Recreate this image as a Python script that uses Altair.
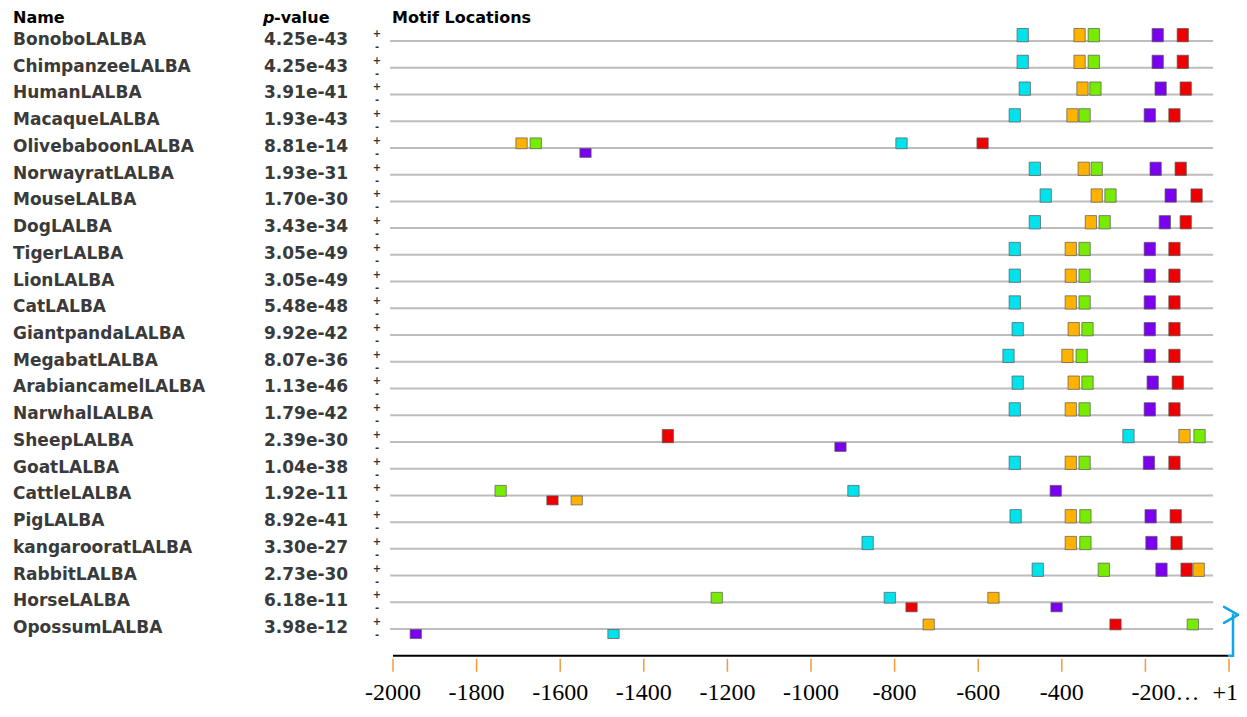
import altair as alt
import pandas as pd

# ---------------- data ----------------
names = ["BonoboLALBA", "ChimpanzeeLALBA", "HumanLALBA", "MacaqueLALBA",
         "OlivebaboonLALBA", "NorwayratLALBA", "MouseLALBA", "DogLALBA",
         "TigerLALBA", "LionLALBA", "CatLALBA", "GiantpandaLALBA",
         "MegabatLALBA", "ArabiancamelLALBA", "NarwhalLALBA", "SheepLALBA",
         "GoatLALBA", "CattleLALBA", "PigLALBA", "kangarooratLALBA",
         "RabbitLALBA", "HorseLALBA", "OpossumLALBA"]
pvalues = ["4.25e-43", "4.25e-43", "3.91e-41", "1.93e-43", "8.81e-14",
           "1.93e-31", "1.70e-30", "3.43e-34", "3.05e-49", "3.05e-49",
           "5.48e-48", "9.92e-42", "8.07e-36", "1.13e-46", "1.79e-42",
           "2.39e-30", "1.04e-38", "1.92e-11", "8.92e-41", "3.30e-27",
           "2.73e-30", "6.18e-11", "3.98e-12"]

motif_ids = [1, 2, 3, 4, 5]
motif_colors = ["#00E3EC", "#FFB300", "#78EC00", "#7A00EE", "#EE0000"]
MOTIF_WIDTH = 27          # bp
SEQ_START, SEQ_END = -2007, -38

# (motif, start position, strand)
sites = {
    "BonoboLALBA":       [(1, -507, "+"), (2, -371, "+"), (3, -337, "+"), (4, -184, "+"), (5, -124, "+")],
    "ChimpanzeeLALBA":   [(1, -507, "+"), (2, -371, "+"), (3, -337, "+"), (4, -184, "+"), (5, -124, "+")],
    "HumanLALBA":        [(1, -502, "+"), (2, -364, "+"), (3, -333, "+"), (4, -177, "+"), (5, -117, "+")],
    "MacaqueLALBA":      [(1, -526, "+"), (2, -388, "+"), (3, -359, "+"), (4, -203, "+"), (5, -144, "+")],
    "OlivebaboonLALBA":  [(2, -1706, "+"), (3, -1672, "+"), (4, -1553, "-"), (1, -797, "+"), (5, -603, "+")],
    "NorwayratLALBA":    [(1, -478, "+"), (2, -361, "+"), (3, -330, "+"), (4, -189, "+"), (5, -129, "+")],
    "MouseLALBA":        [(1, -452, "+"), (2, -330, "+"), (3, -297, "+"), (4, -153, "+"), (5, -91, "+")],
    "DogLALBA":          [(1, -478, "+"), (2, -344, "+"), (3, -311, "+"), (4, -167, "+"), (5, -117, "+")],
    "TigerLALBA":        [(1, -526, "+"), (2, -392, "+"), (3, -359, "+"), (4, -203, "+"), (5, -144, "+")],
    "LionLALBA":         [(1, -526, "+"), (2, -392, "+"), (3, -359, "+"), (4, -203, "+"), (5, -144, "+")],
    "CatLALBA":          [(1, -526, "+"), (2, -392, "+"), (3, -359, "+"), (4, -203, "+"), (5, -144, "+")],
    "GiantpandaLALBA":   [(1, -519, "+"), (2, -385, "+"), (3, -352, "+"), (4, -203, "+"), (5, -144, "+")],
    "MegabatLALBA":      [(1, -541, "+"), (2, -400, "+"), (3, -366, "+"), (4, -203, "+"), (5, -144, "+")],
    "ArabiancamelLALBA": [(1, -519, "+"), (2, -385, "+"), (3, -352, "+"), (4, -196, "+"), (5, -136, "+")],
    "NarwhalLALBA":      [(1, -526, "+"), (2, -392, "+"), (3, -359, "+"), (4, -203, "+"), (5, -144, "+")],
    "SheepLALBA":        [(5, -1356, "+"), (4, -943, "-"), (1, -254, "+"), (2, -120, "+"), (3, -84, "+")],
    "GoatLALBA":         [(1, -526, "+"), (2, -392, "+"), (3, -359, "+"), (4, -205, "+"), (5, -144, "+")],
    "CattleLALBA":       [(3, -1756, "+"), (5, -1632, "-"), (2, -1574, "-"), (1, -912, "+"), (4, -428, "+")],
    "PigLALBA":          [(1, -524, "+"), (2, -392, "+"), (3, -357, "+"), (4, -201, "+"), (5, -141, "+")],
    "kangarooratLALBA":  [(1, -878, "+"), (2, -392, "+"), (3, -357, "+"), (4, -199, "+"), (5, -139, "+")],
    "RabbitLALBA":       [(1, -471, "+"), (3, -313, "+"), (4, -175, "+"), (5, -115, "+"), (2, -86, "+")],
    "HorseLALBA":        [(3, -1239, "+"), (1, -825, "+"), (5, -773, "-"), (2, -577, "+"), (4, -426, "-")],
    "OpossumLALBA":      [(4, -1959, "-"), (1, -1486, "-"), (2, -732, "+"), (5, -285, "+"), (3, -100, "+")],
}

tick_values = [-2000, -1800, -1600, -1400, -1200, -1000, -800, -600, -400, -200, 0]
tick_labels = ["-2000", "-1800", "-1600", "-1400", "-1200", "-1000", "-800",
               "-600", "-400", "-200\u2026", "+1"]
TSS = 0

# ---------------- layout ----------------
W, H = 1231, 697
X0_PX = 385.0         # chart x of -2000
PX_PER_BP = 0.418
ROW0_PX = 33.0        # chart y of first sequence line
ROW_STEP = 26.73
AXIS_ROW = len(names)

xs = alt.Scale(domain=[-2000 - X0_PX / PX_PER_BP, -2000 + (W - X0_PX) / PX_PER_BP],
               nice=False, zero=False)
ys = alt.Scale(domain=[-ROW0_PX / ROW_STEP, (H - ROW0_PX) / ROW_STEP],
               nice=False, zero=False, reverse=True)

def px_row(p):
    return p / ROW_STEP

def px_bp(p):
    return p / PX_PER_BP

seq_df = pd.DataFrame({
    "row": list(range(len(names))),
    "name": names,
    "pvalue": pvalues,
    "x0": SEQ_START,
    "x1": SEQ_END,
})

rows = []
for i, n in enumerate(names):
    weak = float(pvalues[i]) > 1e-20
    hp = 10.0 if weak else 12.5
    for m, s, strand in sites[n]:
        if strand == "+":
            yt, yb = i - px_row(hp), i + px_row(0.8)
        else:
            yt, yb = i + px_row(0.5), i + px_row(9.5)
        rows.append({"row": i, "motif": m, "start": s, "end": s + MOTIF_WIDTH,
                     "ytop": yt, "ybot": yb})
site_df = pd.DataFrame(rows)

FONT = "DejaVu Sans"

lines = alt.Chart(seq_df).mark_rule(color="#bdbdbd", strokeWidth=2).encode(
    x=alt.X("x0:Q", scale=xs, axis=None), x2="x1:Q",
    y=alt.Y("row:Q", scale=ys, axis=None))

boxes = alt.Chart(site_df).mark_rect(stroke="#5a5a5a", strokeWidth=0.9, strokeOpacity=0.8).encode(
    x=alt.X("start:Q", scale=xs, axis=None), x2="end:Q",
    y=alt.Y("ytop:Q", scale=ys, axis=None), y2="ybot:Q",
    color=alt.Color("motif:N", scale=alt.Scale(domain=motif_ids, range=motif_colors), legend=None))

name_txt = alt.Chart(seq_df).mark_text(align="left", baseline="alphabetic", dy=4,
                                       font=FONT, fontSize=17, fontWeight="bold",
                                       color="#3a3a3a").encode(
    x=alt.value(5), y=alt.Y("row:Q", scale=ys, axis=None), text="name:N")

p_txt = alt.Chart(seq_df).mark_text(align="left", baseline="alphabetic", dy=4,
                                    font=FONT, fontSize=17, fontWeight="bold",
                                    color="#3a3a3a").encode(
    x=alt.value(256), y=alt.Y("row:Q", scale=ys, axis=None), text="pvalue:N")

# strand markers: "+" above the line, "-" below
plus_txt = alt.Chart(seq_df).mark_text(align="center", baseline="middle", dy=-7, text="+",
                                       font=FONT, fontSize=10, fontWeight="bold", color="#333").encode(
    x=alt.value(369), y=alt.Y("row:Q", scale=ys, axis=None))
minus_txt = alt.Chart(seq_df).mark_text(align="center", baseline="middle", dy=6, text="-",
                                        font=FONT, fontSize=10, fontWeight="bold", color="#333").encode(
    x=alt.value(369), y=alt.Y("row:Q", scale=ys, axis=None))

HDR_Y = 15
hdr_df = pd.DataFrame({"t": ["Name", "-value", "Motif Locations"], "x": [5, 266, 384]})
hdr = alt.Chart(hdr_df).mark_text(align="left", baseline="alphabetic", font=FONT,
                                  fontSize=16, fontWeight="bold", color="#000").encode(
    x=alt.X("x:Q", scale=None), y=alt.value(HDR_Y), text="t:N")
hdr_p = alt.Chart(pd.DataFrame({"t": ["p"]})).mark_text(
    align="left", baseline="alphabetic", font=FONT, fontSize=16, fontWeight="bold",
    fontStyle="italic", color="#000").encode(x=alt.value(255), y=alt.value(HDR_Y), text="t:N")

axis_df = pd.DataFrame({"x0": [tick_values[0]], "x1": [tick_values[-1]], "y": [AXIS_ROW]})
axis_line = alt.Chart(axis_df).mark_rule(color="black", strokeWidth=2).encode(
    x=alt.X("x0:Q", scale=xs, axis=None), x2="x1:Q", y=alt.Y("y:Q", scale=ys, axis=None))

tick_df = pd.DataFrame({"v": tick_values, "label": tick_labels,
                        "y0": AXIS_ROW + px_row(3), "y1": AXIS_ROW + px_row(16),
                        "yl": AXIS_ROW})
ticks = alt.Chart(tick_df).mark_rule(color="#F49A3A", strokeWidth=1.5).encode(
    x=alt.X("v:Q", scale=xs, axis=None), y=alt.Y("y0:Q", scale=ys, axis=None), y2="y1:Q")

LAB_DY = 44
LAB_FONT = dict(baseline="alphabetic", dy=LAB_DY, font="Liberation Serif",
                fontSize=24, color="black")
lab_enc = dict(x=alt.X("v:Q", scale=xs, axis=None),
               y=alt.Y("yl:Q", scale=ys, axis=None), text="label:N")
lab_main = alt.Chart(tick_df).transform_filter(
    "indexof(datum.label, '\u2026') < 0 && indexof(datum.label, '+') < 0"
).mark_text(align="center", **LAB_FONT).encode(**lab_enc)
lab_ell = alt.Chart(tick_df).transform_filter(
    "indexof(datum.label, '\u2026') >= 0"
).mark_text(align="left", dx=-14, **LAB_FONT).encode(**lab_enc)
lab_end = alt.Chart(tick_df).transform_filter(
    "indexof(datum.label, '+') >= 0"
).mark_text(align="right", dx=9, **LAB_FONT).encode(**lab_enc)

# promoter arrow at the TSS
xv = TSS + px_bp(4)
ytop = AXIS_ROW - px_row(41)
arrow_df = pd.DataFrame({
    "x0": [TSS, xv, TSS - px_bp(5), TSS + px_bp(9)],
    "x1": [xv, xv, TSS + px_bp(9), TSS - px_bp(5)],
    "y0": [AXIS_ROW, AXIS_ROW, ytop - px_row(8), ytop],
    "y1": [AXIS_ROW, ytop, ytop, ytop + px_row(8)],
})
arrow = alt.Chart(arrow_df).mark_rule(color="#12A6E8", strokeWidth=2.5, strokeCap="round").encode(
    x=alt.X("x0:Q", scale=xs, axis=None), x2="x1:Q",
    y=alt.Y("y0:Q", scale=ys, axis=None), y2="y1:Q")

chart = alt.layer(lines, boxes, name_txt, p_txt, plus_txt, minus_txt, hdr, hdr_p,
                  axis_line, ticks, lab_main, lab_ell, lab_end, arrow).properties(
    width=W, height=H, autosize=alt.AutoSizeParams(type="none"),
    padding=0, background="white"
).configure_view(stroke=None)

chart.save("out.html", embed_options={"renderer": "svg", "actions": False})
